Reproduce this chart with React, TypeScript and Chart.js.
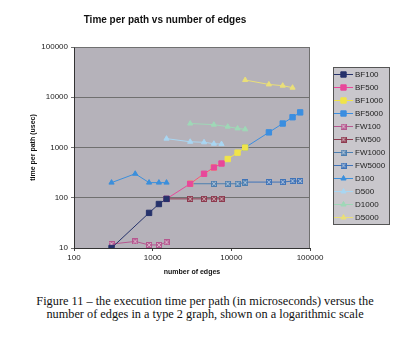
import React, { useEffect, useRef } from "react";
import { Chart, registerables } from "chart.js";
import { drawPoint } from "chart.js/helpers";

Chart.register(...registerables);

const chartTitle = "Time per path vs number of edges";
const xAxisTitle = "number of edges";
const yAxisTitle = "time per path (usec)";
const caption1 = "Figure 11 \u2013 the execution time per path (in microseconds) versus the";
const caption2 = "number of edges in a type 2 graph, shown on a logarithmic scale";

const xTickValues = [100, 1000, 10000, 100000];
const yTickValues = [10, 100, 1000, 10000, 100000];

// number of edges for graphs of 100, 500, 1000 and 5000 nodes
const edges100 = [300, 600, 900, 1200, 1500];
const edges500 = [1500, 3000, 4500, 6000, 7500];
const edges1000 = [3000, 6000, 9000, 12000, 15000];
const edges5000 = [15000, 30000, 45000, 60000, 75000];

// time per path (usec)
const bf100 = [10, null, 50, 75, 95];
const bf500 = [95, 190, 300, 400, 480];
const bf1000 = [190, 400, 590, 790, 1000];
const bf5000 = [1000, 2000, 3000, 4000, 5000];
const fw100 = [12, 13.5, 11.5, 11.5, 13];
const fw500 = [95, 95, 95, 95, 95];
const fw1000 = [190, 190, 190, 190, 200];
const fw5000 = [205, 205, 205, 215, 215];
const d100 = [200, 300, 200, 200, 200];
const d500 = [1500, 1300, 1270, 1190, 1170];
const d1000 = [3000, 2850, 2600, 2400, 2300];
const d5000 = [22000, 18000, 17000, 15500, null];

const seriesNames = ["BF100", "BF500", "BF1000", "BF5000", "FW100", "FW500", "FW1000", "FW5000", "D100", "D500", "D1000", "D5000"];
const seriesEdges = [edges100, edges500, edges1000, edges5000, edges100, edges500, edges1000, edges5000, edges100, edges500, edges1000, edges5000];
const seriesValues = [bf100, bf500, bf1000, bf5000, fw100, fw500, fw1000, fw5000, d100, d500, d1000, d5000];
const seriesColors = ["#26326b", "#e8489a", "#f0e44a", "#3b8ee0", "#b5578f", "#8e3a4f", "#4d7fb0", "#3f73b8", "#3b8fdc", "#a9d6f2", "#9fd8b7", "#eadf78"];
const seriesMarkers = ["rect", "rect", "rect", "rect", "boxx", "boxx", "boxx", "boxx", "triangle", "triangle", "triangle", "triangle"];

const FONT = "'Liberation Sans', Arial, sans-serif";

function makeBoxX(color: string) {
  const c = document.createElement("canvas");
  c.width = 6;
  c.height = 6;
  const g = c.getContext("2d")!;
  g.fillStyle = color;
  g.globalAlpha = 0.8;
  g.fillRect(0, 0, 6, 6);
  g.globalAlpha = 1;
  g.strokeStyle = color;
  g.lineWidth = 1;
  g.strokeRect(0.5, 0.5, 5, 5);
  g.strokeStyle = "rgba(255,255,255,0.5)";
  g.beginPath();
  g.moveTo(1, 1);
  g.lineTo(5, 5);
  g.moveTo(5, 1);
  g.lineTo(1, 5);
  g.stroke();
  return c;
}

export default function App() {
  const ref = useRef<HTMLCanvasElement | null>(null);

  useEffect(() => {
    const canvas = ref.current;
    if (!canvas) return;

    const datasets = seriesNames.map((name, i) => {
      const marker = seriesMarkers[i];
      const style: any = marker === "boxx" ? makeBoxX(seriesColors[i]) : marker;
      return {
        label: name,
        data: seriesEdges[i].map((x, j) => ({ x, y: seriesValues[i][j] })),
        borderColor: seriesColors[i],
        backgroundColor: seriesColors[i],
        pointBorderColor: seriesColors[i],
        pointBackgroundColor: seriesColors[i],
        borderWidth: 1,
        pointStyle: style,
        pointRadius: marker === "rect" ? 3.8 : 3,
        pointBorderWidth: 1,
        spanGaps: true,
        tension: 0,
      };
    });

    const bgPlugin = {
      id: "plotBg",
      beforeDraw(chart: any) {
        const { ctx, chartArea: a } = chart;
        ctx.save();
        ctx.fillStyle = "#ffffff";
        ctx.fillRect(0, 0, chart.width, chart.height);
        ctx.fillStyle = "#b5b2ba";
        ctx.fillRect(a.left, a.top, a.right - a.left, a.bottom - a.top);
        ctx.restore();
      },
      afterDatasetsDraw(chart: any) {
        const { ctx, chartArea: a } = chart;
        ctx.save();
        ctx.strokeStyle = "#707070";
        ctx.lineWidth = 1;
        ctx.beginPath();
        ctx.moveTo(Math.round(a.left) + 0.5, Math.round(a.top) + 0.5);
        ctx.lineTo(Math.round(a.right) - 0.5, Math.round(a.top) + 0.5);
        ctx.lineTo(Math.round(a.right) - 0.5, Math.round(a.bottom));
        ctx.stroke();
        ctx.restore();
      },
    };

    const legendPlugin = {
      id: "boxLegend",
      afterDraw(chart: any) {
        const { ctx } = chart;
        const left = 333;
        const top = 67;
        const w = 56;
        const rowH = 13;
        const h = rowH * chart.data.datasets.length + 1;
        ctx.save();
        ctx.fillStyle = "#c9c7cc";
        ctx.fillRect(left, top, w, h);
        ctx.strokeStyle = "#555555";
        ctx.lineWidth = 1;
        ctx.strokeRect(left + 0.5, top + 0.5, w, h);
        chart.data.datasets.forEach((ds: any, i: number) => {
          const y = top + 7.5 + i * rowH;
          ctx.strokeStyle = ds.borderColor;
          ctx.lineWidth = 1;
          ctx.beginPath();
          ctx.moveTo(left + 1, y);
          ctx.lineTo(left + 20, y);
          ctx.stroke();
          ctx.fillStyle = ds.pointBackgroundColor;
          ctx.strokeStyle = ds.pointBorderColor;
          drawPoint(ctx, { pointStyle: ds.pointStyle, rotation: 0, radius: ds.pointRadius, borderWidth: 1 } as any, left + 10.5, y);
          ctx.fillStyle = "#222222";
          ctx.font = `8px ${FONT}`;
          ctx.textBaseline = "middle";
          ctx.textAlign = "left";
          ctx.fillText(ds.label, left + 22, y + 0.5);
        });
        ctx.restore();
      },
    };

    const chart = new Chart(canvas, {
      type: "line",
      data: { datasets: datasets as any },
      plugins: [bgPlugin, legendPlugin],
      options: {
        responsive: false,
        animation: false,
        devicePixelRatio: 1,
        layout: { padding: { left: 20, right: 90, top: 0, bottom: 14 } },
        plugins: {
          legend: { display: false },
          tooltip: { enabled: false },
          title: {
            display: true,
            text: chartTitle,
            color: "#111111",
            font: { family: FONT, size: 10, weight: "bold", lineHeight: 1.2 },
            padding: { top: 14, bottom: 21 },
          },
        },
        scales: {
          x: {
            type: "logarithmic",
            min: 100,
            max: 100000,
            afterBuildTicks: (s: any) => {
              s.ticks = xTickValues.map((v) => ({ value: v }));
            },
            afterFit: (s: any) => {
              s.height = 28;
            },
            ticks: {
              autoSkip: false,
              maxRotation: 0,
              padding: 2,
              color: "#222222",
              font: { family: FONT, size: 8 },
              callback: (v: any) => String(v),
            },
            grid: { drawOnChartArea: false, tickLength: 3, color: "#444444" },
            border: { color: "#333333" },
            title: {
              display: true,
              text: xAxisTitle,
              color: "#111111",
              font: { family: FONT, size: 7, weight: "bold", lineHeight: 1.2 },
              padding: { top: 0, bottom: 0 },
            },
          },
          y: {
            type: "logarithmic",
            min: 10,
            max: 100000,
            afterBuildTicks: (s: any) => {
              s.ticks = yTickValues.map((v) => ({ value: v }));
            },
            afterFit: (s: any) => {
              s.width = 54;
            },
            ticks: {
              autoSkip: false,
              padding: 3,
              color: "#222222",
              font: { family: FONT, size: 8 },
              callback: (v: any) => String(v),
            },
            grid: { color: "#707070", tickLength: 3, lineWidth: 1 },
            border: { color: "#333333" },
            title: {
              display: true,
              text: yAxisTitle,
              color: "#111111",
              font: { family: FONT, size: 7, weight: "bold", lineHeight: 1.2 },
              padding: { top: 9, bottom: 0 },
            },
          },
        },
      },
    });

    return () => chart.destroy();
  }, []);

  return (
    <div style={{ position: "absolute", left: 0, top: 0, width: 400, height: 350, background: "#ffffff", overflow: "hidden" }}>
      <canvas ref={ref} width={400} height={290} style={{ display: "block", width: 400, height: 290 }} />
      <div
        style={{
          position: "absolute",
          left: 0,
          top: 295,
          width: 410,
          textAlign: "center",
          fontFamily: "'Liberation Serif', 'Times New Roman', serif",
          fontSize: 12.3,
          lineHeight: "13px",
          color: "#111111",
        }}
      >
        <div>{caption1}</div>
        <div>{caption2}</div>
      </div>
    </div>
  );
}
